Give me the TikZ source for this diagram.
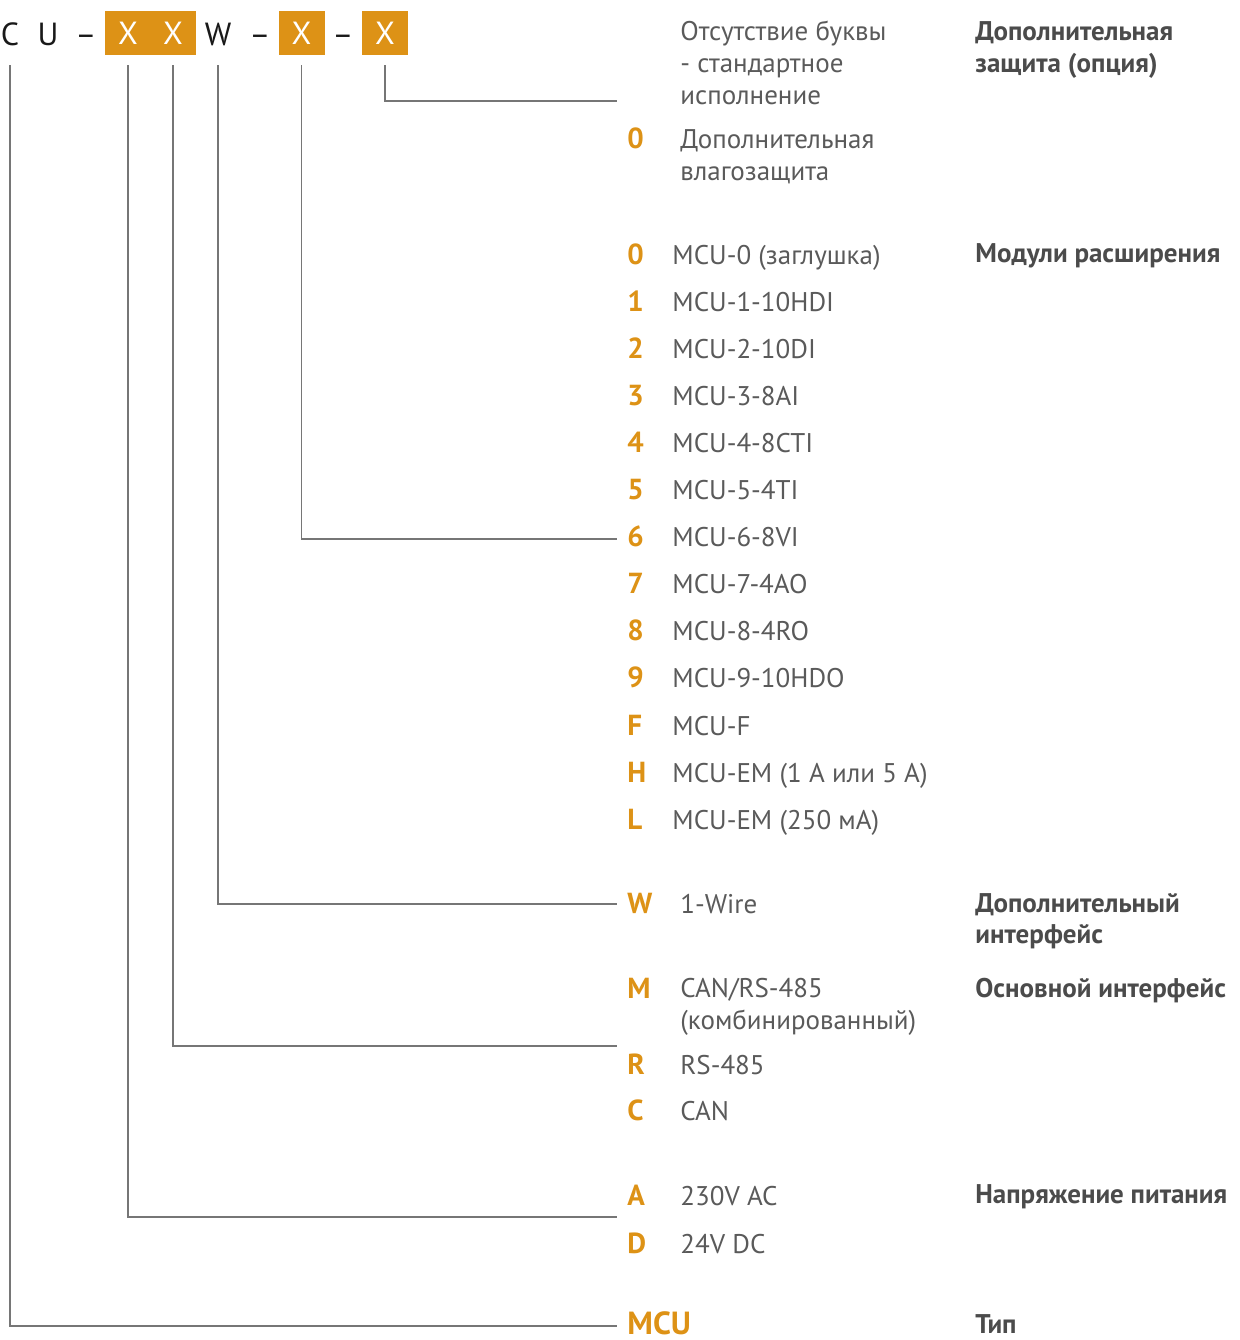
\documentclass[tikz,border=0pt]{standalone}
\usepackage{fontspec}
\setmainfont{PT Sans}
\usetikzlibrary{calc}
\definecolor{mcuorange}{HTML}{DD9216}
\definecolor{desctext}{HTML}{5A5A5A}
\definecolor{headtext}{HTML}{4B4B4B}
\definecolor{leadgray}{HTML}{767676}

\begin{document}
\begin{tikzpicture}[x=0.5pt,y=-0.5pt,
  hdr/.style={anchor=base,inner sep=0pt,text=black!90,font=\fontsize{16}{16}\selectfont},
  xbox/.style={fill=mcuorange,text=white,minimum width=23pt,minimum height=22pt,inner sep=0pt,font=\fontsize{16}{16}\selectfont},
  code/.style={anchor=base west,inner sep=0pt,text=mcuorange,font=\fontsize{14.5}{14.5}\selectfont\bfseries},
  desc/.style={anchor=base west,inner sep=0pt,text=desctext,font=\fontsize{13.5}{13.5}\selectfont},
  head/.style={anchor=base west,inner sep=0pt,text=headtext,font=\fontsize{13.5}{13.5}\selectfont\bfseries},
  lead/.style={leadgray,line width=0.6pt}]
\useasboundingbox (0,0) rectangle (1239,1340);
\node[hdr] (hc) at (10,45) {C};
\node[hdr] (hu) at (48,45) {U};
\node[hdr] (hd1) at (86,45) {–};
\node[xbox] (b1) at (128,33) {X};
\node[xbox] (b2) at (173,33) {X};
\node[hdr] (hw) at (218,45) {W};
\node[hdr] (hd2) at (260,45) {–};
\node[xbox] (b3) at (301.5,33) {X};
\node[hdr] (hd3) at (343,45) {–};
\node[xbox] (b4) at (385,33) {X};
\coordinate (top) at (0,65);
\coordinate (end-prot) at (617,101);
\coordinate (end-mod) at (617,539);
\coordinate (end-wire) at (617,904);
\coordinate (end-iface) at (617,1046);
\coordinate (end-pwr) at (617,1217);
\coordinate (end-type) at (617,1326);
\draw[lead] (b4.south |- top) |- (end-prot);
\draw[lead] (b3.south |- top) |- (end-mod);
\draw[lead] (hw.south |- top) |- (end-wire);
\draw[lead] (b2.south |- top) |- (end-iface);
\draw[lead] (b1.south |- top) |- (end-pwr);
\draw[lead] (hc.south |- top) |- (end-type);
\node[desc] (p-a) at (680,40) {Отсутствие буквы};
\node[desc] (p-b) at (680,72) {- стандартное};
\node[desc] (p-c) at (680,104) {исполнение};
\node[code] (p0) at (627,148) {0};
\node[desc] (p0-a) at (680,148) {Дополнительная};
\node[desc] (p0-b) at (680,180) {влагозащита};
\node[head] (h-prot-a) at (975,40) {Дополнительная};
\node[head] (h-prot-b) at (975,72) {защита (опция)};
\foreach \c/\t [count=\k] in {0/{MCU-0 (заглушка)},1/MCU-1-10HDI,2/MCU-2-10DI,3/MCU-3-8AI,4/MCU-4-8CTI,5/MCU-5-4TI,6/MCU-6-8VI,7/MCU-7-4AO,8/MCU-8-4RO,9/MCU-9-10HDO,F/MCU-F,H/{MCU-EM (1 А или 5 А)},L/{MCU-EM (250 мА)}}{
  \node[code] (m\k) at (627,{264+47.1*(\k-1)}) {\c};
  \node[desc] (md\k) at (672,{264+47.1*(\k-1)}) {\t};
}
\node[head] (h-mod) at (975,262) {Модули расширения};
\node[code] (w) at (627,913) {W};
\node[desc] (w-d) at (680,913) {1-Wire};
\node[head] (h-wire-a) at (975,912) {Дополнительный};
\node[head] (h-wire-b) at (975,943) {интерфейс};
\node[code] (i-m) at (627,998) {M};
\node[desc] (i-m-a) at (680,997) {CAN/RS-485};
\node[desc] (i-m-b) at (680,1029) {(комбинированный)};
\node[code] (i-r) at (627,1074) {R};
\node[desc] (i-r-d) at (680,1074) {RS-485};
\node[code] (i-c) at (627,1120) {C};
\node[desc] (i-c-d) at (680,1120) {CAN};
\node[head] (h-iface) at (975,997) {Основной интерфейс};
\node[code] (v-a) at (627,1205) {A};
\node[desc] (v-a-d) at (680,1205) {230V AC};
\node[code] (v-d) at (627,1253) {D};
\node[desc] (v-d-d) at (680,1253) {24V DC};
\node[head] (h-pwr) at (975,1203) {Напряжение питания};
\node[code,font=\fontsize{16}{16}\selectfont\bfseries] (t-mcu) at (627,1334) {MCU};
\node[head] (h-type) at (975,1333) {Тип};
\end{tikzpicture}
\end{document}
